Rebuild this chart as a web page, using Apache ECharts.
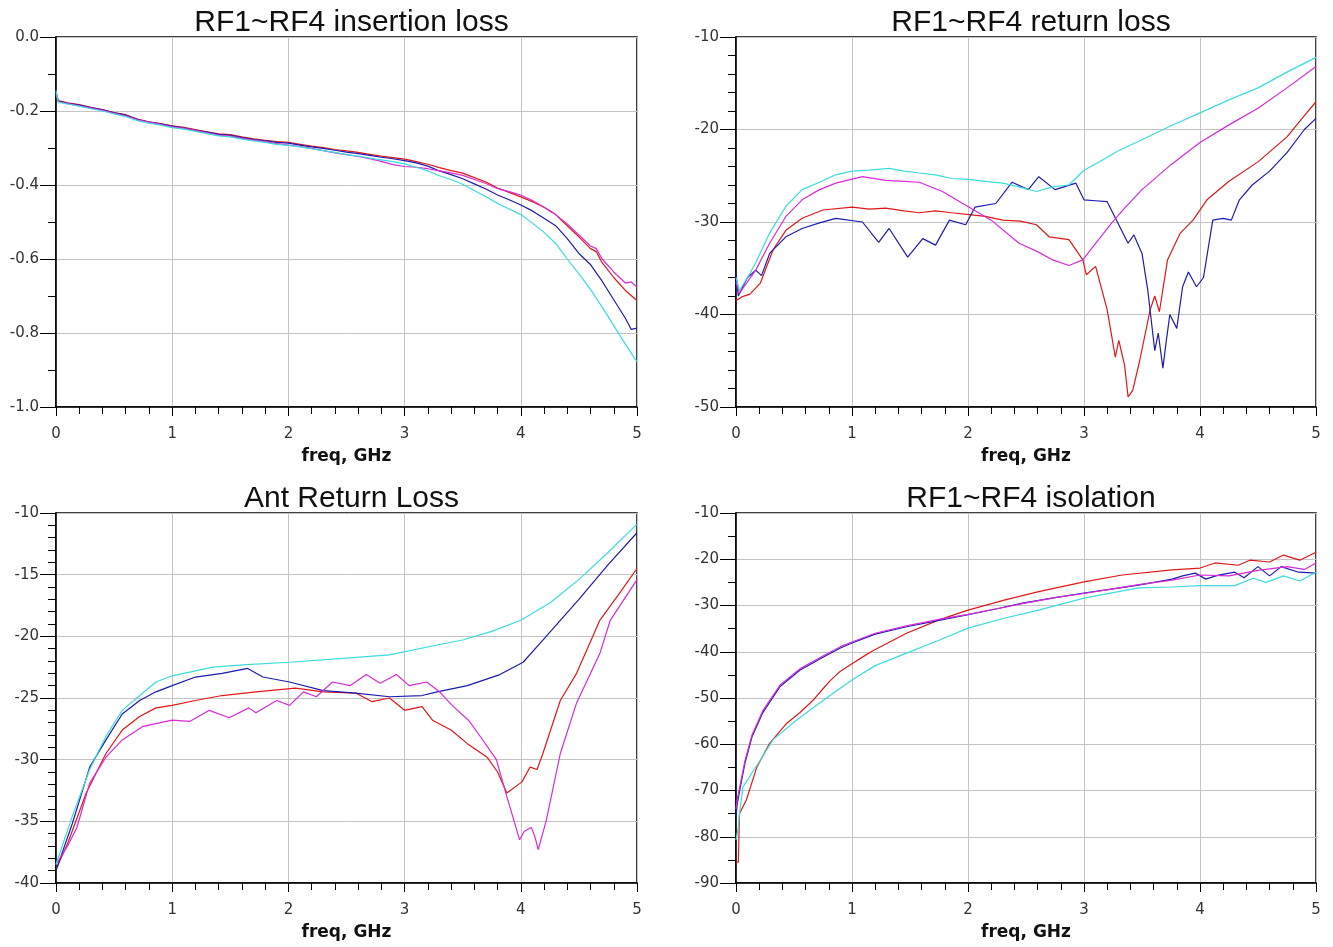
<!DOCTYPE html>
<html>
<head>
<meta charset="utf-8">
<script src="https://cdn.jsdelivr.net/npm/echarts@6/dist/echarts.min.js"></script>
<style>html,body{margin:0;padding:0;background:#fff}#c{width:1333px;height:947px}</style>
</head>
<body>
<div id="c"></div>
<script>
// ---- panel titles / axis labels ----
const titles = ['RF1~RF4 insertion loss', 'RF1~RF4 return loss', 'Ant Return Loss', 'RF1~RF4 isolation'];
const xName = 'freq, GHz';
const xTicks = [0, 1, 2, 3, 4, 5];
const yRanges = [[-1, 0, 0.2, 2], [-50, -10, 10, 5], [-40, -10, 5, 5], [-90, -10, 10, 2]];

// ---- panel 1: insertion loss [GHz, dB] ----
const ilRed = [[0,-0.15],[0.02,-0.172],[0.1,-0.178],[0.2,-0.183],[0.3,-0.19],[0.4,-0.196],[0.5,-0.204],[0.6,-0.21],[0.7,-0.222],[0.8,-0.229],[0.9,-0.234],[1.0,-0.24],[1.1,-0.244],[1.2,-0.25],[1.3,-0.256],[1.4,-0.262],[1.5,-0.264],[1.6,-0.27],[1.7,-0.275],[1.8,-0.279],[1.9,-0.283],[2.0,-0.285],[2.1,-0.29],[2.2,-0.295],[2.3,-0.299],[2.4,-0.304],[2.5,-0.308],[2.6,-0.312],[2.7,-0.317],[2.8,-0.322],[2.9,-0.326],[3.0,-0.33],[3.1,-0.337],[3.2,-0.344],[3.3,-0.353],[3.4,-0.361],[3.5,-0.368],[3.6,-0.38],[3.7,-0.392],[3.8,-0.408],[3.9,-0.42],[4.0,-0.432],[4.1,-0.445],[4.2,-0.46],[4.3,-0.48],[4.4,-0.51],[4.5,-0.54],[4.6,-0.572],[4.65,-0.58],[4.7,-0.61],[4.8,-0.65],[4.9,-0.685],[5.0,-0.712]];
const ilBlue = [[0,-0.16],[0.02,-0.173],[0.1,-0.179],[0.2,-0.184],[0.3,-0.191],[0.4,-0.197],[0.5,-0.205],[0.6,-0.211],[0.7,-0.223],[0.8,-0.23],[0.9,-0.235],[1.0,-0.241],[1.1,-0.246],[1.2,-0.252],[1.3,-0.257],[1.4,-0.263],[1.5,-0.266],[1.6,-0.272],[1.7,-0.277],[1.8,-0.281],[1.9,-0.285],[2.0,-0.287],[2.1,-0.292],[2.2,-0.297],[2.3,-0.301],[2.4,-0.306],[2.5,-0.311],[2.6,-0.315],[2.7,-0.32],[2.8,-0.325],[2.9,-0.329],[3.0,-0.334],[3.1,-0.34],[3.2,-0.349],[3.3,-0.362],[3.4,-0.372],[3.5,-0.383],[3.6,-0.397],[3.7,-0.411],[3.8,-0.427],[3.9,-0.44],[4.0,-0.454],[4.1,-0.47],[4.2,-0.49],[4.3,-0.51],[4.4,-0.545],[4.5,-0.585],[4.6,-0.615],[4.7,-0.66],[4.8,-0.71],[4.9,-0.76],[4.95,-0.79],[5.0,-0.787]];
const ilMag = [[0,-0.155],[0.02,-0.175],[0.1,-0.18],[0.2,-0.186],[0.3,-0.192],[0.4,-0.198],[0.5,-0.206],[0.6,-0.213],[0.7,-0.224],[0.8,-0.23],[0.9,-0.236],[1.0,-0.243],[1.1,-0.247],[1.2,-0.253],[1.3,-0.259],[1.4,-0.265],[1.5,-0.268],[1.6,-0.274],[1.7,-0.279],[1.8,-0.283],[1.9,-0.288],[2.0,-0.292],[2.1,-0.296],[2.2,-0.301],[2.3,-0.307],[2.4,-0.313],[2.5,-0.318],[2.6,-0.323],[2.7,-0.329],[2.8,-0.336],[2.9,-0.345],[3.0,-0.35],[3.1,-0.352],[3.2,-0.356],[3.3,-0.362],[3.4,-0.367],[3.5,-0.374],[3.6,-0.385],[3.7,-0.396],[3.8,-0.41],[3.9,-0.418],[4.0,-0.427],[4.1,-0.442],[4.2,-0.46],[4.3,-0.48],[4.4,-0.505],[4.5,-0.535],[4.6,-0.565],[4.65,-0.572],[4.7,-0.6],[4.8,-0.635],[4.9,-0.665],[4.95,-0.662],[5.0,-0.676]];
const ilCyan = [[0,-0.145],[0.02,-0.176],[0.1,-0.181],[0.2,-0.187],[0.3,-0.194],[0.4,-0.2],[0.5,-0.208],[0.6,-0.215],[0.7,-0.226],[0.8,-0.233],[0.9,-0.238],[1.0,-0.245],[1.1,-0.249],[1.2,-0.255],[1.3,-0.261],[1.4,-0.267],[1.5,-0.27],[1.6,-0.276],[1.7,-0.281],[1.8,-0.285],[1.9,-0.29],[2.0,-0.293],[2.1,-0.297],[2.2,-0.302],[2.3,-0.307],[2.4,-0.312],[2.5,-0.318],[2.6,-0.322],[2.7,-0.327],[2.8,-0.332],[2.9,-0.337],[3.0,-0.343],[3.1,-0.352],[3.2,-0.362],[3.3,-0.375],[3.4,-0.385],[3.5,-0.398],[3.6,-0.415],[3.7,-0.432],[3.8,-0.45],[3.9,-0.465],[4.0,-0.48],[4.1,-0.503],[4.2,-0.528],[4.3,-0.558],[4.4,-0.6],[4.5,-0.64],[4.6,-0.682],[4.7,-0.73],[4.8,-0.78],[4.9,-0.83],[5.0,-0.878]];

// ---- panel 2: return loss ----
const rlRed = [[0,-38.5],[0.05,-38.1],[0.12,-37.8],[0.21,-36.6],[0.32,-33],[0.43,-30.9],[0.57,-29.6],[0.75,-28.7],[1.0,-28.4],[1.15,-28.6],[1.29,-28.5],[1.45,-28.8],[1.58,-29],[1.72,-28.8],[1.86,-29],[2.01,-29.2],[2.15,-29.4],[2.3,-29.8],[2.45,-29.9],[2.59,-30.3],[2.7,-31.6],[2.87,-31.9],[2.99,-34.1],[3.02,-35.7],[3.1,-34.8],[3.2,-39.5],[3.27,-44.6],[3.3,-42.8],[3.35,-45.5],[3.38,-48.9],[3.42,-48.2],[3.48,-45],[3.57,-39.5],[3.61,-38],[3.65,-39.7],[3.72,-34.1],[3.83,-31.2],[3.94,-29.8],[4.06,-27.6],[4.25,-25.6],[4.5,-23.5],[4.75,-20.8],[4.9,-18.5],[5.0,-17]];
const rlBlue = [[0,-35.5],[0.02,-38],[0.1,-36],[0.17,-35.2],[0.22,-35.8],[0.29,-33.4],[0.43,-31.6],[0.57,-30.7],[0.72,-30.1],[0.86,-29.6],[1.09,-30],[1.23,-32.2],[1.32,-30.7],[1.48,-33.8],[1.61,-31.8],[1.72,-32.5],[1.84,-29.8],[1.98,-30.3],[2.06,-28.4],[2.24,-28],[2.38,-25.7],[2.52,-26.5],[2.61,-25.1],[2.75,-26.5],[2.93,-25.8],[3.0,-27.6],[3.1,-27.7],[3.2,-27.8],[3.28,-29.8],[3.38,-32.3],[3.43,-31.4],[3.5,-33.4],[3.55,-37.4],[3.61,-43.9],[3.64,-42],[3.68,-45.8],[3.71,-42.8],[3.74,-40],[3.8,-41.5],[3.85,-37],[3.9,-35.4],[3.97,-37],[4.03,-36],[4.11,-29.8],[4.2,-29.6],[4.27,-29.8],[4.34,-27.6],[4.45,-26],[4.6,-24.5],[4.75,-22.5],[4.9,-20],[5.0,-18.8]];
const rlMag = [[0,-36.5],[0.03,-37.7],[0.17,-35.2],[0.29,-32.3],[0.43,-29.4],[0.57,-27.6],[0.72,-26.5],[0.86,-25.8],[1.09,-25.1],[1.29,-25.5],[1.45,-25.6],[1.58,-25.7],[1.78,-26.7],[2.01,-28.4],[2.2,-29.8],[2.44,-32.3],[2.6,-33.2],[2.73,-34.1],[2.87,-34.7],[2.99,-34.1],[3.1,-32.3],[3.24,-30.1],[3.35,-28.5],[3.5,-26.5],[3.75,-23.8],[4.0,-21.4],[4.25,-19.5],[4.5,-17.7],[4.75,-15.5],[5.0,-13.2]];
const rlCyan = [[0,-36],[0.03,-37.4],[0.1,-36],[0.17,-34.4],[0.29,-31.2],[0.43,-28.3],[0.57,-26.5],[0.72,-25.7],[0.86,-24.9],[1.0,-24.5],[1.15,-24.4],[1.32,-24.2],[1.45,-24.5],[1.58,-24.7],[1.72,-24.9],[1.86,-25.3],[2.0,-25.4],[2.15,-25.6],[2.3,-25.8],[2.44,-26.2],[2.59,-26.7],[2.73,-26.2],[2.87,-26],[3.0,-24.4],[3.16,-23.3],[3.28,-22.4],[3.5,-21.1],[3.75,-19.6],[4.0,-18.2],[4.25,-16.8],[4.5,-15.5],[4.75,-13.8],[5.0,-12.2]];

// ---- panel 3: antenna return loss ----
const antRed = [[0,-38.9],[0.1,-36.8],[0.26,-32.7],[0.43,-29.5],[0.57,-27.6],[0.72,-26.5],[0.86,-25.8],[1.0,-25.6],[1.2,-25.2],[1.43,-24.8],[1.72,-24.5],[2.06,-24.2],[2.3,-24.5],[2.58,-24.6],[2.72,-25.3],[2.87,-25],[3.0,-26],[3.15,-25.7],[3.24,-26.8],[3.4,-27.6],[3.54,-28.7],[3.71,-29.8],[3.8,-31],[3.88,-32.7],[4.01,-31.8],[4.08,-30.6],[4.14,-30.8],[4.19,-29.5],[4.34,-25.2],[4.48,-23],[4.62,-20],[4.68,-18.7],[4.85,-16.5],[5.0,-14.5]];
const antBlue = [[0,-39],[0.14,-35.2],[0.29,-30.6],[0.43,-28.4],[0.57,-26.3],[0.72,-25.2],[0.86,-24.5],[1.0,-24],[1.2,-23.3],[1.43,-23],[1.65,-22.6],[1.78,-23.3],[2.01,-23.7],[2.3,-24.4],[2.58,-24.6],[2.87,-24.9],[3.15,-24.8],[3.28,-24.5],[3.54,-24],[3.82,-23.1],[4.02,-22.1],[4.19,-20.3],[4.34,-18.7],[4.5,-17],[4.75,-14.2],[5.0,-11.6]];
const antMag = [[0,-38.5],[0.1,-37],[0.18,-35.5],[0.29,-31.9],[0.43,-29.8],[0.57,-28.4],[0.75,-27.3],[1.0,-26.8],[1.15,-26.9],[1.32,-26],[1.49,-26.6],[1.66,-25.8],[1.72,-26.2],[1.9,-25.2],[2.01,-25.6],[2.13,-24.5],[2.24,-24.9],[2.38,-23.7],[2.53,-24],[2.67,-23.1],[2.79,-23.8],[2.93,-23.1],[3.04,-24],[3.19,-23.7],[3.3,-24.5],[3.42,-25.7],[3.55,-26.8],[3.65,-28.1],[3.79,-30],[3.88,-33],[3.99,-36.5],[4.03,-35.8],[4.09,-35.5],[4.12,-36.2],[4.15,-37.3],[4.22,-34.9],[4.34,-29.5],[4.48,-25.4],[4.68,-21.4],[4.77,-18.7],[5.0,-15.4]];
const antCyan = [[0,-38.5],[0.14,-34.6],[0.29,-30.8],[0.43,-28.1],[0.57,-26],[0.72,-24.8],[0.86,-23.7],[1.0,-23.2],[1.15,-22.9],[1.35,-22.5],[1.64,-22.3],[2.01,-22.1],[2.44,-21.8],[2.87,-21.5],[3.28,-20.7],[3.5,-20.3],[3.75,-19.6],[4.0,-18.7],[4.25,-17.3],[4.5,-15.4],[4.75,-13.2],[5.0,-10.9]];

// ---- panel 4: isolation ----
const isoRed = [[0,-85.5],[0.02,-85.5],[0.03,-75],[0.09,-72],[0.18,-64.9],[0.29,-59.8],[0.44,-55.4],[0.55,-53.2],[0.66,-50.6],[0.75,-48],[0.81,-46.3],[0.9,-44.2],[1.0,-42.6],[1.1,-41],[1.18,-39.8],[1.47,-36],[1.75,-33.1],[2.0,-31],[2.32,-28.8],[2.61,-27],[3.0,-24.9],[3.33,-23.4],[3.76,-22.3],[4.0,-21.9],[4.13,-20.8],[4.33,-21.3],[4.43,-20.2],[4.6,-20.6],[4.72,-19.1],[4.86,-20.2],[5.0,-18.5]];
const isoBlue = [[0,-75.6],[0.01,-73],[0.034,-69.7],[0.078,-64],[0.138,-58.4],[0.23,-53.2],[0.38,-47.5],[0.55,-44],[0.75,-41.2],[0.9,-39.2],[1.0,-38.1],[1.2,-36.2],[1.47,-34.6],[1.75,-33.2],[2.0,-32],[2.25,-30.7],[2.47,-29.5],[2.75,-28.3],[3.0,-27.3],[3.25,-26.4],[3.47,-25.6],[3.76,-24.3],[3.85,-23.6],[3.96,-23],[4.05,-24.3],[4.15,-23.5],[4.3,-22.8],[4.38,-24],[4.5,-21.6],[4.6,-23.6],[4.7,-21.6],[4.85,-22.8],[5.0,-23]];
const isoMag = [[0,-74],[0.01,-72],[0.034,-69],[0.078,-63.5],[0.138,-58],[0.23,-52.8],[0.38,-47.2],[0.55,-43.7],[0.75,-40.9],[0.9,-38.9],[1.0,-37.9],[1.2,-36],[1.47,-34.4],[1.75,-33],[2.0,-31.9],[2.25,-30.7],[2.47,-29.6],[2.75,-28.3],[3.0,-27.4],[3.25,-26.4],[3.47,-25.5],[3.76,-24.5],[4.0,-23.4],[4.25,-23.6],[4.5,-22.4],[4.75,-21.6],[4.9,-22.2],[5.0,-20.8]];
const isoCyan = [[0,-80.7],[0.02,-78],[0.03,-75],[0.06,-69.2],[0.21,-63.4],[0.32,-59],[0.52,-54.8],[0.72,-51.1],[0.92,-47.5],[1.0,-46.1],[1.2,-43],[1.47,-40.3],[1.75,-37.5],[2.0,-34.9],[2.32,-32.7],[2.61,-31],[3.0,-28.4],[3.47,-26.2],[3.76,-26],[4.0,-25.7],[4.3,-25.7],[4.46,-24.1],[4.57,-25],[4.72,-23.6],[4.86,-24.7],[5.0,-22.8]];

const panels = [
  [ilRed, ilBlue, ilMag, ilCyan],
  [rlRed, rlBlue, rlMag, rlCyan],
  [antRed, antBlue, antMag, antCyan],
  [isoRed, isoBlue, isoMag, isoCyan]
];
const colors = ['#e01818', '#1c1cb0', '#d82ad8', '#3cdcdc'];

const FONT = 'Liberation Sans, Arial, sans-serif';
const LFONT = 'DejaVu Sans, sans-serif';
const boxes = [
  {left: 56, top: 37, width: 581, height: 370},
  {left: 736, top: 37, width: 580, height: 370},
  {left: 56, top: 513, width: 581, height: 370},
  {left: 736, top: 513, width: 580, height: 370}
];

const option = {
  animation: false,
  backgroundColor: '#fff',
  title: boxes.map((b, i) => ({
    text: titles[i], left: b.left + b.width / 2, top: b.top - 34, textAlign: 'center',
    textStyle: {fontFamily: FONT, fontSize: 30, fontWeight: 'normal', color: '#111'}
  })),
  grid: boxes.map(b => Object.assign({show: true, borderColor: '#000', borderWidth: 1.5, backgroundColor: 'transparent'}, b)),
  xAxis: boxes.map((b, i) => ({
    type: 'value', gridIndex: i, min: xTicks[0], max: xTicks[xTicks.length - 1], interval: 1,
    name: xName, nameLocation: 'middle', nameGap: 41,
    nameTextStyle: {fontFamily: LFONT, fontSize: 17, fontWeight: 'bold', color: '#111'},
    axisLine: {onZero: false, lineStyle: {color: '#000', width: 1.5}},
    axisTick: {length: 9, lineStyle: {color: '#000'}},
    minorTick: {show: true, splitNumber: 5, length: 7, lineStyle: {color: '#000'}},
    splitLine: {show: true, lineStyle: {color: '#c4c4c4', width: 1}},
    axisLabel: {margin: 20, fontFamily: LFONT, fontSize: 15, color: '#333'}
  })),
  yAxis: yRanges.map((r, i) => ({
    type: 'value', gridIndex: i, min: r[0], max: r[1], interval: r[2],
    axisLine: {onZero: false, lineStyle: {color: '#000', width: 1.5}},
    axisTick: {length: 16, lineStyle: {color: '#000'}},
    minorTick: {show: true, splitNumber: r[3], length: 8, lineStyle: {color: '#000'}},
    splitLine: {show: true, lineStyle: {color: '#c4c4c4', width: 1}},
    axisLabel: {margin: 17, fontFamily: LFONT, fontSize: 15, color: '#333',
      formatter: v => (i === 0 ? v.toFixed(1) : String(Math.round(v)))}
  })),
  series: []
};
panels.forEach((set, p) => {
  set.forEach((data, k) => {
    option.series.push({
      type: 'line', xAxisIndex: p, yAxisIndex: p, data: data,
      showSymbol: false, symbol: 'none', silent: true,
      lineStyle: {color: colors[k], width: 1.2}, z: 3
    });
  });
});
const chart = echarts.init(document.getElementById('c'), null, {renderer: 'canvas'});
chart.setOption(option);
</script>
</body>
</html>
